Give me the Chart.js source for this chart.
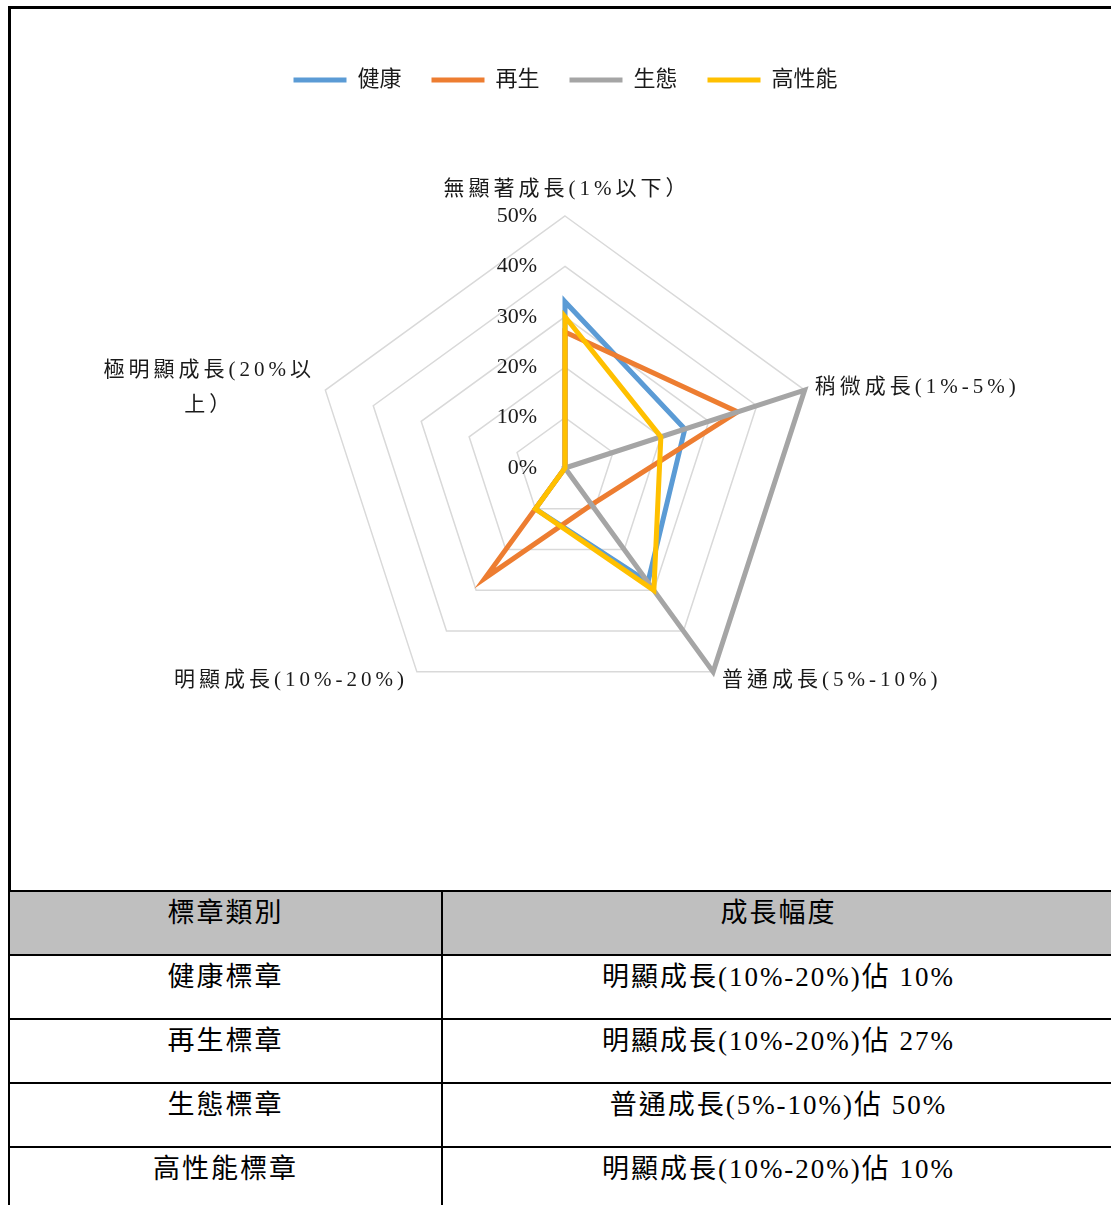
<!DOCTYPE html>
<html lang="zh-Hant">
<head>
<meta charset="UTF-8">
<title>標章成長幅度</title>
<script src="https://cdn.jsdelivr.net/npm/chart.js@4/dist/chart.umd.min.js"></script>
<style>
  html, body { margin: 0; padding: 0; background: #fff; overflow: hidden; }
  body { width: 1111px; height: 1205px; position: relative; }
  #frame { position: absolute; left: 8px; top: 6px; width: 1120px; height: 890px;
           border-top: 3px solid #000; border-left: 3px solid #000; }
  #radar { position: absolute; left: 0; top: 0; }
  table { position: absolute; left: 8px; top: 890px; width: 1108px; table-layout: fixed;
          border-collapse: collapse; background: #fff;
          font-family: "Liberation Serif", "Noto Sans CJK TC", serif; font-size: 27px;
          letter-spacing: 2px; color: #000; }
  td, th { border: 2px solid #000; height: 57px; padding: 5px 0 0 0; vertical-align: top;
           text-align: center; font-weight: normal; line-height: 32px; }
  th { background: #bfbfbf; }
</style>
</head>
<body>
<div id="frame"></div>
<canvas id="radar" width="1111" height="890"></canvas>
<table>
  <colgroup><col style="width:433px"><col></colgroup>
  <tr><th>標章類別</th><th>成長幅度</th></tr>
  <tr><td>健康標章</td><td>明顯成長(10%-20%)佔 10%</td></tr>
  <tr><td>再生標章</td><td>明顯成長(10%-20%)佔 27%</td></tr>
  <tr><td>生態標章</td><td>普通成長(5%-10%)佔 50%</td></tr>
  <tr><td>高性能標章</td><td>明顯成長(10%-20%)佔 10%</td></tr>
</table>
<script>
// 雷達圖資料
const categories = [
  '無顯著成長(1%以下）',
  '稍微成長(1%-5%)',
  '普通成長(5%-10%)',
  '明顯成長(10%-20%)',
  ['極明顯成長(20%以', '上）']
];
const seriesNames = ['健康', '再生', '生態', '高性能'];
const healthValues = [33, 25, 28, 10, 0];
const renewValues = [27, 36, 9, 27, 0];
const ecoValues = [0, 50, 50, 0, 0];
const perfValues = [30, 20, 30, 10, 0];
const tickValues = [0, 10, 20, 30, 40, 50];
const tickLabels = ['0%', '10%', '20%', '30%', '40%', '50%'];

const colors = ['#5b9bd5', '#ed7d31', '#a5a5a5', '#ffc000'];
const textFont = '"Liberation Serif", "Noto Sans CJK TC"';

// 軸標籤位置 (相對於外圈頂點)
const labelOffsets = [
  { align: 'center', dx: 2, dy: -27 },
  { align: 'left', dx: 10, dy: -3 },
  { align: 'left', dx: 9, dy: 9 },
  { align: 'right', dx: -9, dy: 9 },
  { align: 'center', dx: -116, dy: -20 }
];

// 圖例下方留白
const legendGap = {
  id: 'legendGap',
  beforeInit(chart) {
    const fit = chart.legend.fit;
    chart.legend.fit = function () {
      fit.bind(chart.legend)();
      this.height += 115;
    };
  }
};

// 刻度與軸標籤
const radarText = {
  id: 'radarText',
  afterDraw(chart) {
    const scale = chart.scales.r;
    const ctx = chart.ctx;
    ctx.save();
    ctx.fillStyle = '#1a1a1a';
    ctx.textBaseline = 'middle';
    ctx.font = '22px ' + textFont;
    ctx.textAlign = 'right';
    tickValues.forEach((v, i) => {
      const p = scale.getPointPositionForValue(0, v);
      ctx.fillText(tickLabels[i], p.x - 28, p.y);
    });
    ctx.font = '21px ' + textFont;
    ctx.letterSpacing = '4px';
    categories.forEach((label, i) => {
      const p = scale.getPointPosition(i, scale.drawingArea);
      const o = labelOffsets[i];
      ctx.textAlign = o.align;
      const lines = Array.isArray(label) ? label : [label];
      lines.forEach((line, j) => ctx.fillText(line, p.x + o.dx, p.y + o.dy + j * 35));
    });
    ctx.restore();
  }
};

const seriesValues = [healthValues, renewValues, ecoValues, perfValues];
const datasets = seriesNames.map((name, i) => ({
  label: name,
  data: seriesValues[i],
  borderColor: colors[i],
  backgroundColor: colors[i],
  borderWidth: 5,
  borderCapStyle: 'round',
  borderJoinStyle: 'miter',
  pointRadius: 0,
  fill: false,
  order: seriesNames.length - 1 - i
}));

new Chart(document.getElementById('radar'), {
  type: 'radar',
  data: { labels: categories, datasets: datasets },
  options: {
    responsive: false,
    devicePixelRatio: 1,
    animation: false,
    events: [],
    layout: { padding: { left: 60, right: 40, top: 39, bottom: 170 } },
    plugins: {
      legend: {
        position: 'top',
        labels: {
          usePointStyle: true,
          pointStyle: 'line',
          pointStyleWidth: 53,
          padding: 30,
          color: '#1a1a1a',
          font: { size: 22, family: textFont },
          sort: (a, b) => a.datasetIndex - b.datasetIndex
        }
      },
      tooltip: { enabled: false }
    },
    scales: {
      r: {
        min: 0,
        max: 50,
        ticks: { display: false, stepSize: 10 },
        pointLabels: { display: false },
        angleLines: { display: false },
        grid: { color: '#d9d9d9', lineWidth: 1.5 }
      }
    }
  },
  plugins: [legendGap, radarText]
});
</script>
</body>
</html>
